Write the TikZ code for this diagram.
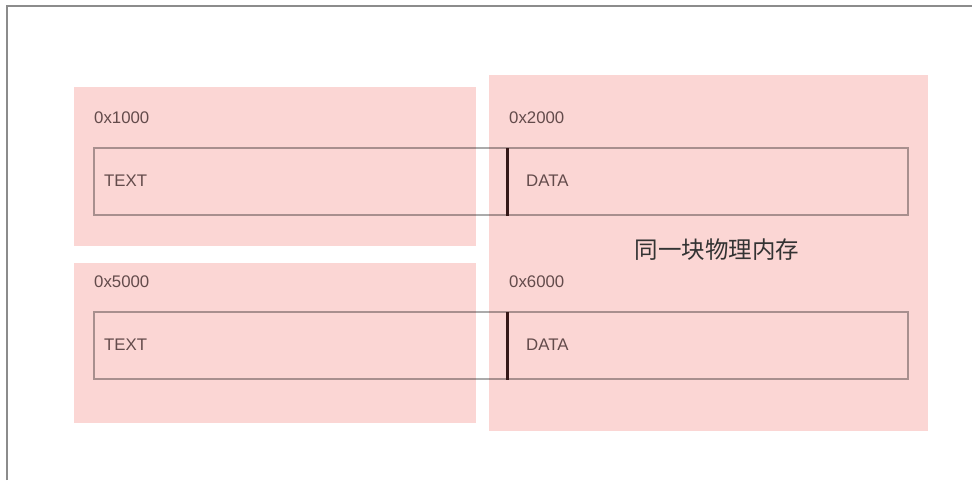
\documentclass[tikz,border=0pt]{standalone}
\usepackage{fontspec}
\setmainfont{Liberation Sans}
\newfontfamily\cjk{Noto Sans CJK SC}
\usetikzlibrary{positioning}
\definecolor{segpink}{HTML}{FBD6D4}
\definecolor{lblbrown}{HTML}{634B4B}
\definecolor{barbrown}{HTML}{351818}

\begin{document}
\begin{tikzpicture}[x=1pt, y=-1pt, every node/.style={font=\fontsize{16.8}{17}\selectfont, inner sep=0pt, text=lblbrown}]

            \useasboundingbox (0,0) rectangle (972,480);
            \fill[white] (0,0) rectangle (972,480);
            \draw[line width=2pt, black!45] (7,480) -- (7,6) -- (972,6);

            % the one physical block
            \fill[segpink] (489,75) rectangle (928,431);
            \node[font=\cjk\fontsize{23.5}{24}\selectfont, text=black!80] (phys) at (717,250) {同一块物理内存};

            \foreach \r/\bt/\bb/\ly/\st/\ta/\da in {a/87/246/118/148/0x1000/0x2000, b/263/423/282/312/0x5000/0x6000} {
                \fill[segpink] (74,\bt) rectangle (476,\bb);
                \node[anchor=west] (taddr\r) at (94,\ly) {\ta};
                \node[anchor=west] (daddr\r) at (509,\ly) {\da};

                \draw[black, opacity=0.33, line width=1.6pt] (94,\st) rectangle (908,{\st+67});
                \draw[barbrown, line width=3pt] (507,\st) -- (507,{\st+68});

                \node[anchor=west] (text\r) at (104,{\st+33}) {TEXT};
                \node[anchor=west] (data\r) at (526,{\st+33}) {DATA};
            }
        \end{tikzpicture}
\end{document}
